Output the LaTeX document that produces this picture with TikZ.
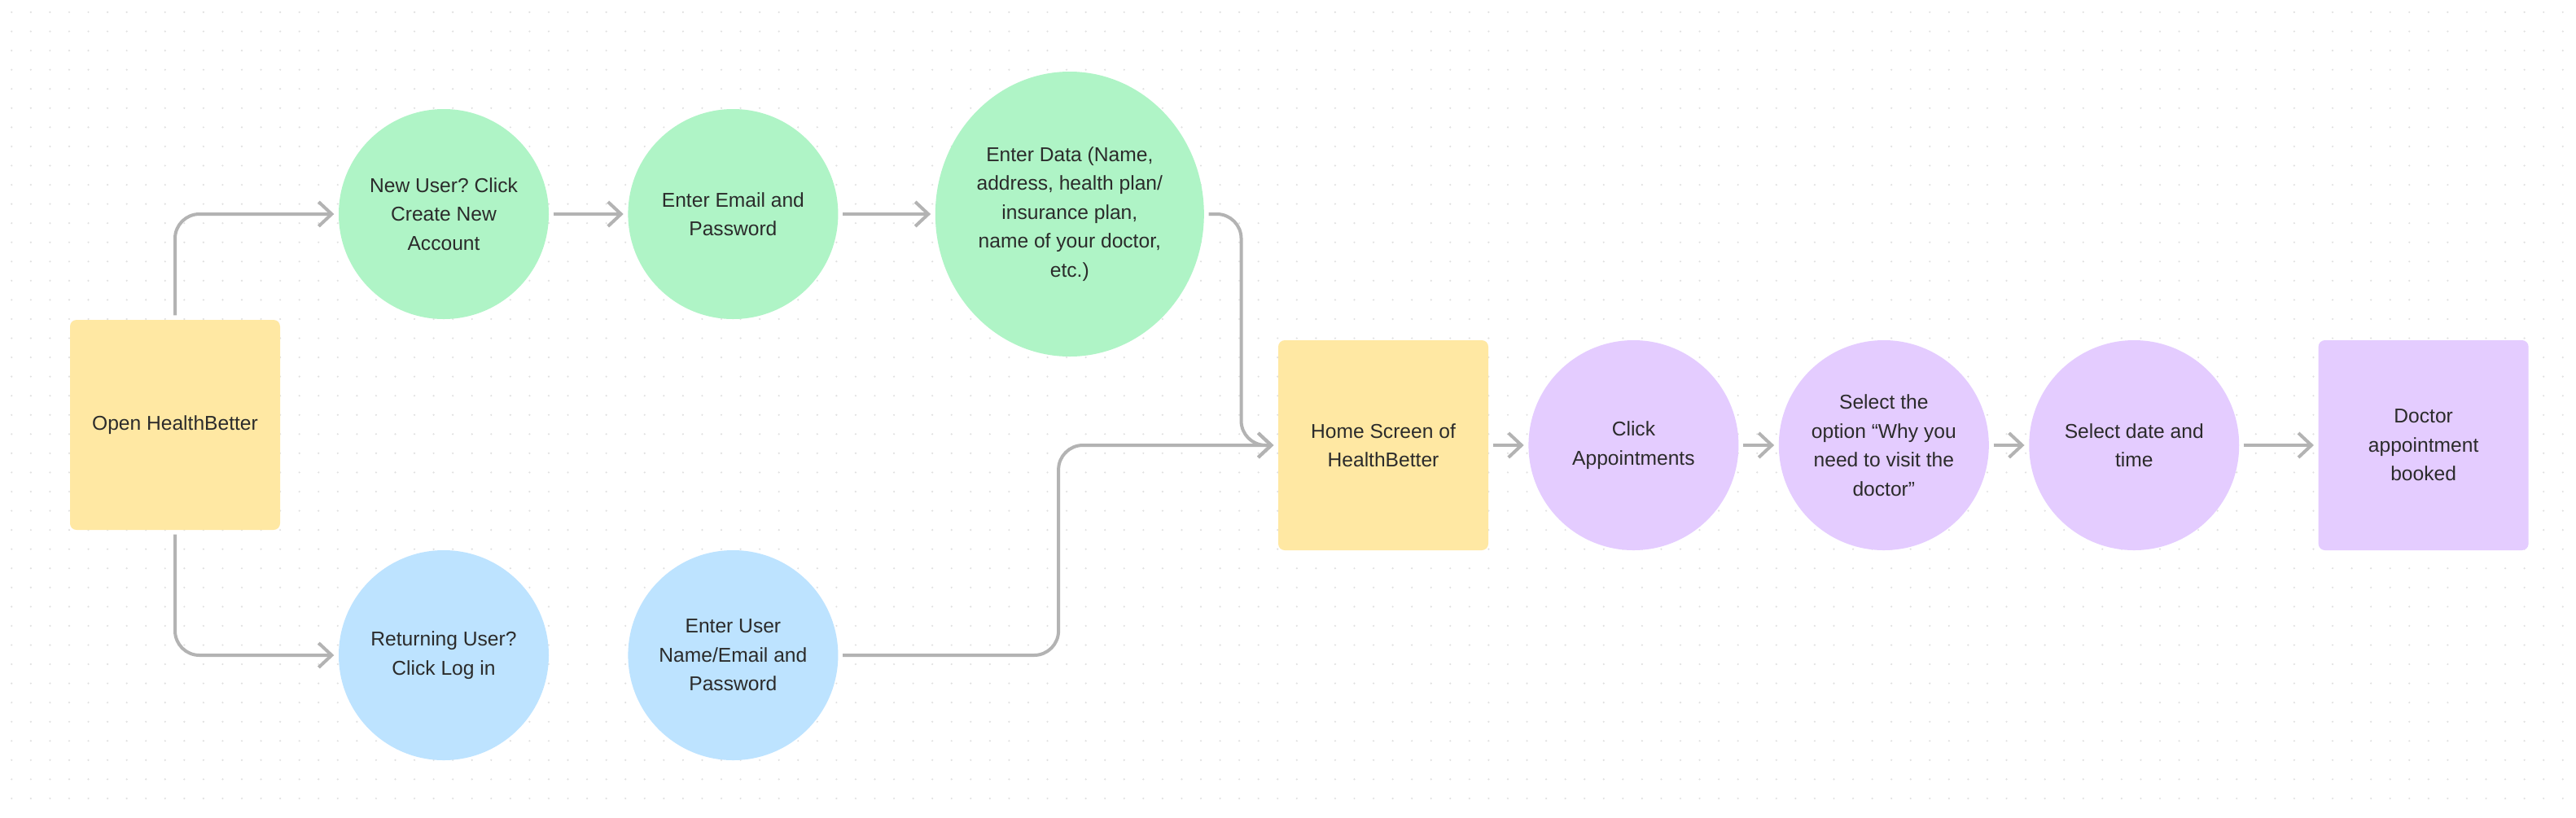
\documentclass[tikz,border=0pt]{standalone}
\usepackage{fontspec}
\setmainfont{Liberation Sans}
\usepackage{tikz}
\usetikzlibrary{arrows.meta, shapes}
\usetikzlibrary{positioning, calc}
\frenchspacing

\definecolor{stickyyellow}{HTML}{FFE8A3}
\definecolor{mintgreen}{HTML}{AFF4C6}
\definecolor{skyblue}{HTML}{BDE3FF}
\definecolor{lilac}{HTML}{E4CCFF}
\definecolor{linkgray}{HTML}{B3B3B3}
\definecolor{inkgray}{HTML}{2B2B2B}
\definecolor{dotgray}{HTML}{E0E0E0}

\begin{document}
\begin{tikzpicture}[
		font=\fontsize{7}{10.1}\selectfont, text=inkgray,
		card/.style={rectangle, rounded corners=0.08cm, minimum width=2.58cm, minimum height=2.58cm, align=center, inner sep=0},
		bubble/.style={circle, minimum size=2.58cm, align=center, inner sep=0},
		link/.style={draw=linkgray, line width=0.04cm, rounded corners=0.3cm, shorten <=0.05cm, shorten >=0.05cm, -{Straight Barb[length=0.16cm, width=0.3cm]}}
	]
			\path[use as bounding box, fill=white] (0,0) rectangle (31.64,-10.04);
			% dotted canvas
			\foreach \i in {0,...,133}
				\foreach \j in {0,...,41}
					\fill[dotgray] (0.143+0.2356*\i, -0.15-0.2356*\j) circle (0.012);

			\node[card, fill=stickyyellow] (Open) at (2.15,-5.22) {Open HealthBetter};
			\node[bubble, fill=mintgreen] (New) at (5.45,-2.63) {New User? Click\\Create New\\Account};
			\node[bubble, fill=mintgreen, right=0.96cm of New] (Email) {Enter Email and\\Password};
			\node[ellipse, fill=mintgreen, minimum width=3.3cm, minimum height=3.5cm, align=center, inner sep=0, right=1.18cm of Email] (Data) {Enter Data (Name,\\address, health plan/\\insurance plan,\\name of your doctor,\\etc.)};
			\node[bubble, fill=skyblue] (Ret) at (5.45,-8.05) {Returning User?\\Click Log in};
			\node[bubble, fill=skyblue, right=0.96cm of Ret] (User) {Enter User\\Name/Email and\\Password};
			\node[card, fill=stickyyellow] (Home) at (16.99,-5.47) {Home Screen of\\HealthBetter};
			\node[bubble, fill=lilac, right=0.48cm of Home] (Appt) {Click\\Appointments};
			\node[bubble, fill=lilac, right=0.48cm of Appt] (Why) {Select the\\option “Why you\\need to visit the\\doctor”};
			\node[bubble, fill=lilac, right=0.48cm of Why] (Date) {Select date and\\time};
			\node[card, fill=lilac, right=0.96cm of Date] (Done) {Doctor\\appointment\\booked};

			% connectors
			\draw[link] (Open.north) |- (New.west);
			\draw[link] (Open.south) |- (Ret.west);
			\draw[link] (New) -- (Email);
			\draw[link] (Email) -- (Data);
			\draw[link] (Data.east) -- ++(0.45,0) |- (Home.west);
			\draw[link] (User.east) -- ++(2.7,0) |- (Home.west);
			\draw[link] (Home) -- (Appt);
			\draw[link] (Appt) -- (Why);
			\draw[link] (Why) -- (Date);
			\draw[link] (Date) -- (Done);
		\end{tikzpicture}
\end{document}
